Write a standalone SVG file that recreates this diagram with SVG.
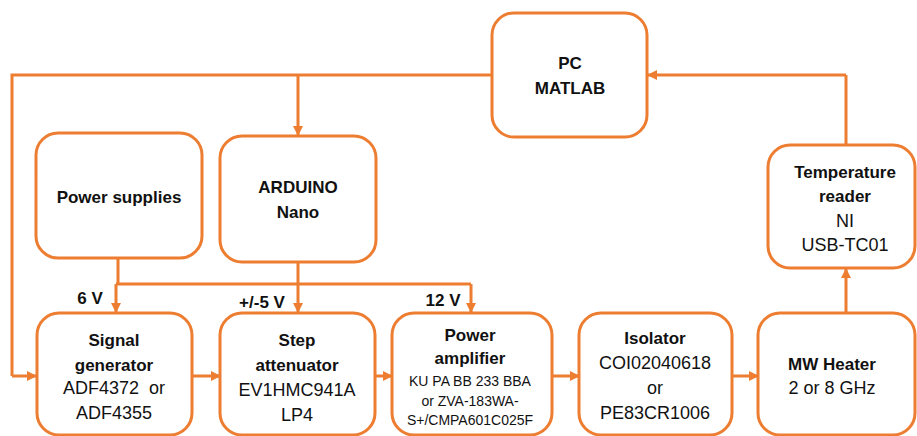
<svg xmlns="http://www.w3.org/2000/svg" width="917" height="436" viewBox="0 0 917 436">
<defs>
<marker id="ah" viewBox="0 0 10 10" refX="9" refY="5" markerWidth="10" markerHeight="10" markerUnits="userSpaceOnUse" orient="auto">
<path d="M0,0 L10,5 L0,10 Z" fill="#ED7D31"/>
</marker>
<style>
.box{fill:#fff;stroke:#ED7D31;stroke-width:3}
.ln{fill:none;stroke:#ED7D31;stroke-width:3}
.ar{fill:none;stroke:#ED7D31;stroke-width:3;marker-end:url(#ah)}
text{font-family:"Liberation Sans",Arial,sans-serif;fill:#111;text-anchor:middle}
.b{font-weight:bold;font-size:17px}
.n{font-size:18px}
.s{font-size:14px}
</style>
</defs>
<rect width="917" height="436" fill="#fff"/>
<g id="connectors">
<path class="ln" d="M492,75 H12 V376"/>
<path class="ar" d="M12,376 H36"/>
<path class="ar" d="M298,75 V135"/>
<path class="ln" d="M118,258 V284"/>
<path class="ln" d="M116,284 H471"/>
<path class="ar" d="M116,284 V312"/>
<path class="ar" d="M471,284 V312"/>
<path class="ar" d="M298,262 V312"/>
<path class="ar" d="M192,376 H220"/>
<path class="ar" d="M375,376 H392"/>
<path class="ar" d="M552,376 H579"/>
<path class="ar" d="M732,376 H758"/>
<path class="ar" d="M846,313 V269"/>
<path class="ln" d="M846,145 V75"/>
<path class="ar" d="M846,75 H648"/>
</g>
<g id="pc">
<rect class="box" x="492" y="13" width="155" height="124" rx="22"/>
<text class="b" x="570" y="69">PC</text>
<text class="b" x="570" y="94">MATLAB</text>
</g>
<g id="power-supplies">
<rect class="box" x="36" y="133" width="166" height="125" rx="22"/>
<text class="b" x="119" y="203">Power supplies</text>
</g>
<g id="arduino">
<rect class="box" x="220" y="136" width="156" height="126" rx="22"/>
<text class="b" x="298" y="193">ARDUINO</text>
<text class="b" x="298" y="218">Nano</text>
</g>
<g id="temperature-reader">
<rect class="box" x="768" y="145" width="147" height="123" rx="22"/>
<text class="b" x="845" y="178">Temperature</text>
<text class="b" x="845" y="202">reader</text>
<text class="n" x="845" y="227">NI</text>
<text class="n" x="845" y="251">USB-TC01</text>
</g>
<g id="labels">
<text class="b" x="90" y="304">6 V</text>
<text class="b" x="262" y="308">+/-5 V</text>
<text class="b" x="443" y="306">12 V</text>
</g>
<g id="signal-generator">
<rect class="box" x="37" y="313" width="155" height="122" rx="22"/>
<text class="b" x="114" y="346">Signal</text>
<text class="b" x="114" y="371">generator</text>
<text class="n" x="114" y="394" xml:space="preserve">ADF4372  or</text>
<text class="n" x="114" y="419">ADF4355</text>
</g>
<g id="step-attenuator">
<rect class="box" x="220" y="313" width="155" height="122" rx="22"/>
<text class="b" x="297" y="346">Step</text>
<text class="b" x="297" y="371">attenuator</text>
<text class="n" x="297" y="396">EV1HMC941A</text>
<text class="n" x="297" y="421">LP4</text>
</g>
<g id="power-amplifier">
<rect class="box" x="392" y="313" width="160" height="122" rx="22"/>
<text class="b" x="470" y="341">Power</text>
<text class="b" x="470" y="364">amplifier</text>
<text class="s" x="470" y="386">KU PA BB 233 BBA</text>
<text class="s" x="470" y="406">or ZVA-183WA-</text>
<text class="s" x="470" y="425">S+/CMPA601C025F</text>
</g>
<g id="isolator">
<rect class="box" x="579" y="313" width="153" height="122" rx="22"/>
<text class="b" x="655" y="344">Isolator</text>
<text class="n" x="655" y="369">COI02040618</text>
<text class="n" x="655" y="394">or</text>
<text class="n" x="655" y="419">PE83CR1006</text>
</g>
<g id="mw-heater">
<rect class="box" x="758" y="313" width="157" height="122" rx="22"/>
<text class="b" x="832" y="370">MW Heater</text>
<text class="n" x="832" y="394">2 or 8 GHz</text>
</g>
</svg>
